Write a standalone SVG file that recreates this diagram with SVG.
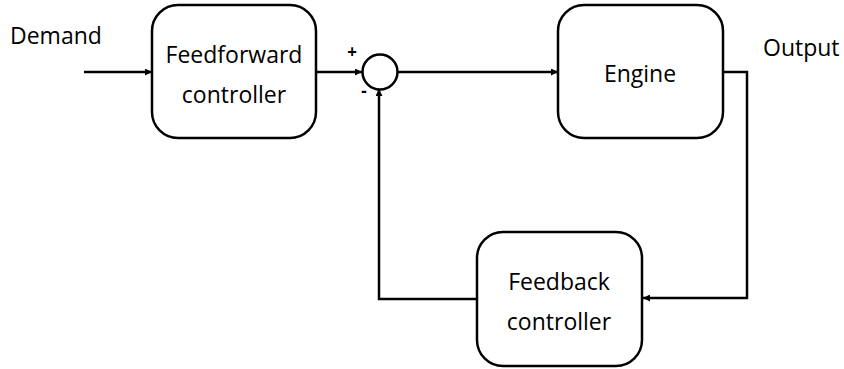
<svg xmlns="http://www.w3.org/2000/svg" width="844" height="369" viewBox="0 0 844 369">
  <style>
    .box { fill: #ffffff; stroke: #000000; stroke-width: 2.5; }
    .wire { fill: none; stroke: #000000; stroke-width: 2.5; }
    .lbl { font-family: "Open Sans", "Liberation Sans", sans-serif; font-size: 23px; fill: #000000; }
    .sign { font-family: "Open Sans", "Liberation Sans", sans-serif; font-size: 17px; font-weight: bold; fill: #000000; }
  </style>
  <defs>
    <marker id="arrow" viewBox="0 0 10 10" refX="10" refY="5" markerWidth="8" markerHeight="7" markerUnits="userSpaceOnUse" orient="auto">
      <path d="M0,0 L10,5 L0,10 z" fill="#000000"/>
    </marker>
  </defs>
  <rect width="844" height="369" fill="#ffffff"/>

  <!-- connectors -->
  <g id="connectors">
    <line class="wire" x1="84" y1="72" x2="152" y2="72" marker-end="url(#arrow)"/>
    <line class="wire" x1="316" y1="72" x2="362" y2="72" marker-end="url(#arrow)"/>
    <line class="wire" x1="397" y1="72" x2="558" y2="72" marker-end="url(#arrow)"/>
    <polyline class="wire" points="723,72 747,72 747,298 643,298" marker-end="url(#arrow)"/>
    <polyline class="wire" points="477,299 379,299 379,89" marker-end="url(#arrow)"/>
  </g>

  <!-- free labels -->
  <text class="lbl" x="10" y="44">Demand</text>
  <text class="lbl" x="763" y="56">Output</text>

  <g id="feedforward">
    <rect class="box" x="152" y="5" width="164" height="133" rx="26"/>
    <text class="lbl" x="234" y="63" text-anchor="middle">Feedforward</text>
    <text class="lbl" x="234" y="103" text-anchor="middle">controller</text>
  </g>

  <g id="sum">
    <circle class="box" cx="380" cy="72" r="17.5"/>
    <text class="sign" x="352" y="57.5" text-anchor="middle">+</text>
    <text class="sign" x="364" y="97" text-anchor="middle">-</text>
  </g>

  <g id="engine">
    <rect class="box" x="558" y="5" width="165" height="133" rx="26"/>
    <text class="lbl" x="640" y="82" text-anchor="middle">Engine</text>
  </g>

  <g id="feedback">
    <rect class="box" x="477" y="232" width="165" height="134" rx="26"/>
    <text class="lbl" x="559" y="290" text-anchor="middle">Feedback</text>
    <text class="lbl" x="559" y="330" text-anchor="middle">controller</text>
  </g>
</svg>
